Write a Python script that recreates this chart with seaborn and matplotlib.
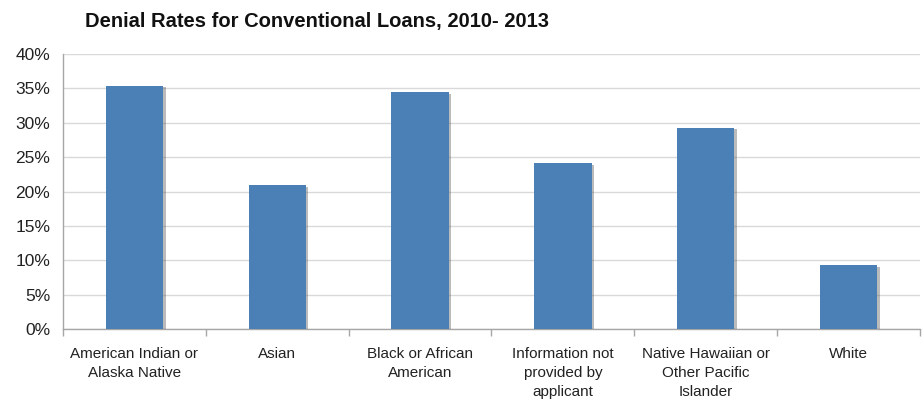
import matplotlib
matplotlib.use("Agg")
import matplotlib.pyplot as plt
import matplotlib.patheffects as pe
from matplotlib.ticker import PercentFormatter, FixedLocator
import seaborn as sns
import pandas as pd

categories = [
    "American Indian or\nAlaska Native",
    "Asian",
    "Black or African\nAmerican",
    "Information not\nprovided by\napplicant",
    "Native Hawaiian or\nOther Pacific\nIslander",
    "White",
]
denial_rates = [35.4, 20.9, 34.4, 24.1, 29.3, 9.3]

BAR_COLOR = "#4a80b5"

sns.set_theme(style="whitegrid")
plt.rcParams["font.family"] = ["Liberation Sans", "DejaVu Sans"]

df = pd.DataFrame({"group": categories, "rate": denial_rates})

fig = plt.figure(figsize=(9.23, 3.99), dpi=100)
ax = fig.add_axes([0.068, 0.175, 0.929, 0.69])

sns.barplot(data=df, x="group", y="rate", color=BAR_COLOR, width=0.4,
            saturation=1, ax=ax, zorder=3)
for p in ax.patches:
    p.set_linewidth(0)
    p.set_path_effects([pe.SimplePatchShadow(offset=(2, -1), shadow_rgbFace="#555555", alpha=0.4),
                        pe.Normal()])

ax.set_ylim(0, 40)
ax.set_xlim(-0.5, len(categories) - 0.5)
ax.yaxis.set_major_locator(FixedLocator(range(0, 41, 5)))
ax.yaxis.set_major_formatter(PercentFormatter(decimals=0))
ax.set_xlabel("")
ax.set_ylabel("")

ax.grid(axis="y", color="#d9d9d9", linewidth=1)
ax.grid(axis="x", visible=False)
for s in ["top", "right"]:
    ax.spines[s].set_visible(False)
for s in ["left", "bottom"]:
    ax.spines[s].set_visible(True)
    ax.spines[s].set_color("#a6a6a6")
    ax.spines[s].set_linewidth(1)

ax.tick_params(axis="y", length=6, color="#a6a6a6", labelsize=12.5, labelcolor="#222222", pad=3)
ax.tick_params(axis="x", length=0, labelsize=11, labelcolor="#222222", pad=13)
ax.set_xticks(range(len(categories)))
ax.set_xticklabels(categories, linespacing=1.45)
# boundary tick marks between categories
ax.set_xticks([i + 0.5 for i in range(-1, len(categories))], minor=True)
ax.tick_params(axis="x", which="minor", length=5, color="#a6a6a6", bottom=True)

fig.text(0.092, 0.945, "Denial Rates for Conventional Loans, 2010- 2013",
         fontsize=14.5, fontweight="bold",
         ha="left", va="center", color="#111111")

fig.savefig("out.png", dpi=100)
